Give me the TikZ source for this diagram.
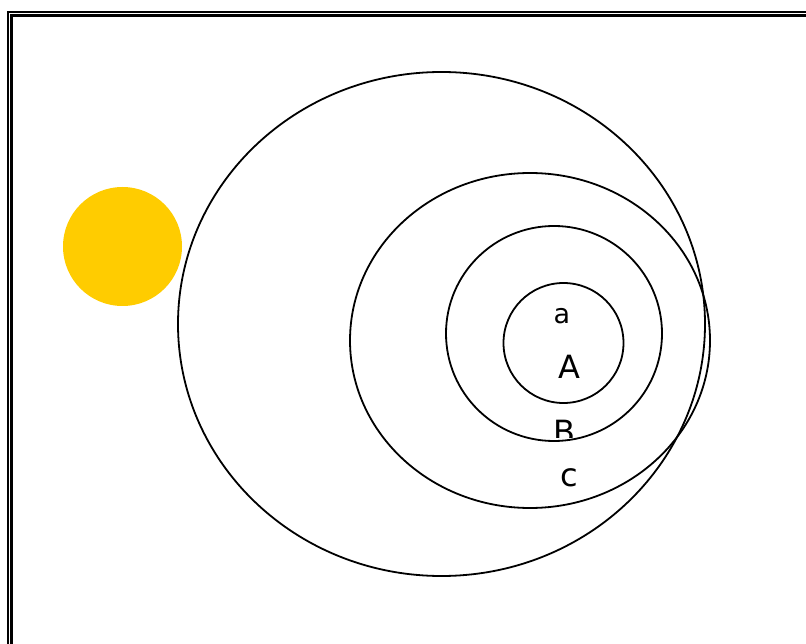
\documentclass[tikz,border=0pt]{standalone}
\usepackage{fontspec}
\setmainfont{DejaVu Sans}
\usepackage{xcolor}
\usetikzlibrary{calc}
\definecolor{sunyellow}{HTML}{FFCC00}

\begin{document}
\begin{tikzpicture}[x=1pt,y=-1pt,
  ring/.style={draw=black,line width=1.8pt},
  lbl/.style={inner sep=0pt,anchor=base,font=\fontsize{32}{36}\selectfont},
  small/.style={lbl,font=\fontsize{27}{30}\selectfont}]
\useasboundingbox (0,0) rectangle (806,644);
% frame
\draw[line width=2.4pt,double,double distance=1pt] (9.8,13.8) rectangle (830,670);
% sun
\fill[sunyellow] (122.5,246.5) circle[radius=59.5];
% nested rings
\draw[ring] (441.5,324) ellipse[x radius=263.5,y radius=252];
\draw[ring] (530,340.5) ellipse[x radius=180,y radius=167.5];
\draw[ring] (554,333.5) ellipse[x radius=108,y radius=107.5];
\draw[ring] (563.5,343) circle[radius=60];
% labels
\node[small] (la) at (562,324) {a};
\node[lbl] (lA) at (569,378) {A};
\begin{scope}
\clip (520,400) rectangle (610,437);
\node[lbl] (lB) at (564.5,443) {B};
\end{scope}
\node[lbl] (lc) at (569.5,486) {c};
\end{tikzpicture}
\end{document}
